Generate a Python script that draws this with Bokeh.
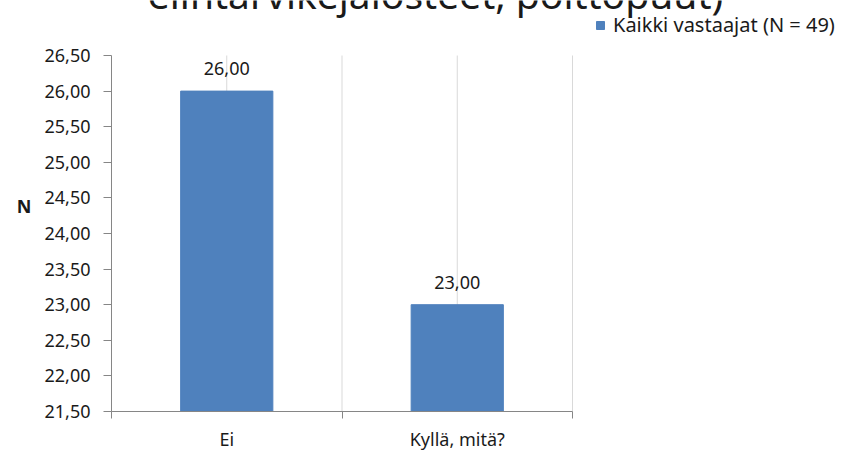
from bokeh.plotting import figure
from bokeh.models import (Range1d, FixedTicker, CustomJSTickFormatter, Label,
                          ColumnDataSource, Legend, LegendItem)
from bokeh.core.properties import value
from bokeh.embed import file_html
from bokeh.resources import INLINE

# ---- data ----
categories = ["Ei", "Kyllä, mitä?"]
values = [26.00, 23.00]
series_name = "Kaikki vastaajat (N = 49)"
title_text = "elintarvikejalosteet, polttopuut)"
y_label = "N"
y_min, y_max, y_step = 21.5, 26.5, 0.5

FONT = "Noto Sans"
BAR = "#4F81BD"
TXT = "#1a1a1a"
AXC = "#868686"
GRC = "#d9d9d9"

W, H = 850, 453
# plotting area of the chart (pixels): left, top, width, height
AL, AT, AW, AH = 111, 55, 461, 356
FB = AT + AH                      # bottom of frame
FW = W - AL                       # frame spans to the right edge

ncat = len(categories)
x_end = ncat * FW / AW
y_end = y_max + (y_max - y_min) * AT / AH

p = figure(width=W, height=H, output_backend="svg", toolbar_location=None,
           x_range=Range1d(0, x_end), y_range=Range1d(y_min, y_end),
           min_border_left=AL, min_border_right=0,
           min_border_top=0, min_border_bottom=H - FB)
p.outline_line_color = None
p.background_fill_color = "white"
p.border_fill_color = "white"
p.xgrid.visible = False
p.ygrid.visible = False

# vertical grid lines at category centres and boundaries
gx = [k * 0.5 for k in range(1, 2 * ncat + 1)]
p.segment(x0=gx, x1=gx, y0=[y_min] * len(gx), y1=[y_max] * len(gx),
          line_color=GRC, line_width=1)

xs = [i + 0.5 for i in range(ncat)]
src = ColumnDataSource(dict(x=xs, top=values,
                            lab=[f"{v:.2f}".replace(".", ",") for v in values]))
r = p.vbar(x="x", top="top", bottom=y_min, width=0.4, source=src,
           fill_color=BAR, line_color=BAR)
p.text(x="x", y="top", text="lab", source=src, text_align="center",
       text_baseline="bottom", y_offset=-16, text_font=value(FONT),
       text_font_size="18px", text_color=TXT)

# x axis: labels at centres, ticks at boundaries
xa = p.xaxis[0]
xa.bounds = (0, ncat)
xa.ticker = FixedTicker(ticks=xs, minor_ticks=list(range(ncat + 1)))
xa.major_label_overrides = {x: c for x, c in zip(xs, categories)}
xa.major_tick_line_color = None
xa.major_tick_out = 0
xa.major_tick_in = 0
xa.minor_tick_out = 7
xa.minor_tick_in = 0
xa.minor_tick_line_color = AXC
xa.axis_line_color = AXC
xa.major_label_standoff = 8
xa.major_label_text_font = FONT
xa.major_label_text_font_size = "18px"
xa.major_label_text_color = TXT

ya = p.yaxis[0]
ya.bounds = (y_min, y_max)
n = int(round((y_max - y_min) / y_step))
ya.ticker = FixedTicker(ticks=[y_min + k * y_step for k in range(n + 1)], minor_ticks=[])
ya.formatter = CustomJSTickFormatter(code="return tick.toFixed(2).replace('.', ',');")
ya.major_tick_out = 8
ya.major_tick_in = 0
ya.major_tick_line_color = AXC
ya.minor_tick_line_color = None
ya.axis_line_color = AXC
ya.major_label_standoff = 13
ya.major_label_text_font = FONT
ya.major_label_text_font_size = "18px"
ya.major_label_text_color = TXT
ya.axis_label = y_label
ya.axis_label_orientation = "horizontal"
ya.axis_label_text_font = FONT
ya.axis_label_text_font_size = "18px"
ya.axis_label_text_font_style = "bold"
ya.axis_label_text_color = TXT
ya.axis_label_standoff = 10

# title: only its last line is visible, cut by the top edge
p.add_layout(Label(x=435 - AL, y=FB + 7, x_units="screen", y_units="screen",
                   text=title_text, text_align="center", text_baseline="alphabetic",
                   text_font=FONT, text_font_size="39px", text_color=TXT))

legend = Legend(items=[LegendItem(label=series_name, renderers=[r])],
                location=(595 - AL, FB - 38), orientation="vertical",
                glyph_width=10, glyph_height=10, label_standoff=8,
                label_text_font=FONT, label_text_font_size="20px",
                label_text_color=TXT, label_height=24,
                padding=0, margin=0, spacing=0,
                border_line_color=None, background_fill_alpha=0)
p.add_layout(legend, "center")

open("out.html", "w").write(file_html(p, INLINE))
